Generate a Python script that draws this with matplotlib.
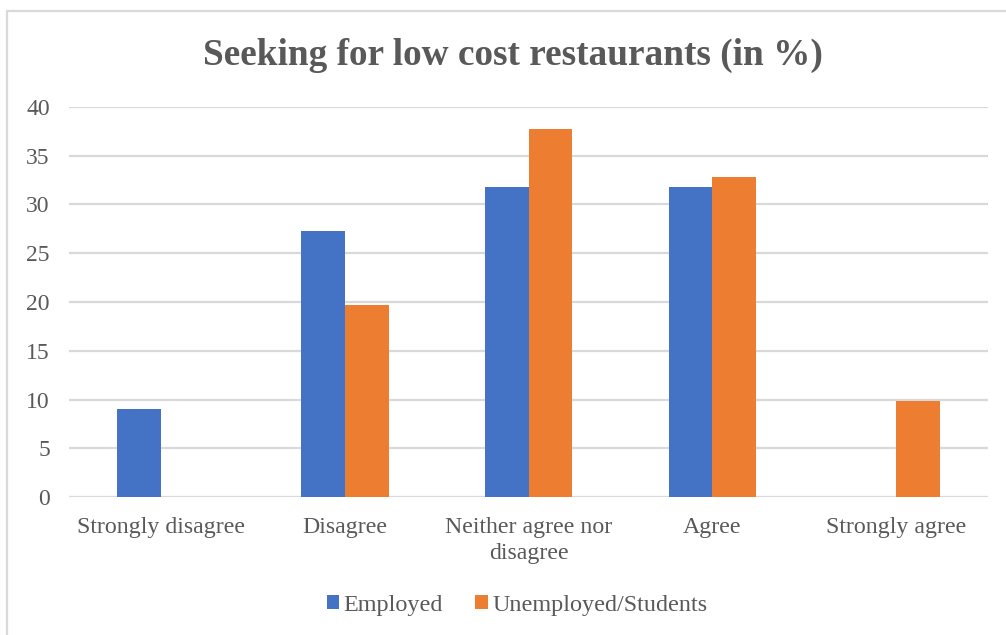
import numpy as np
import matplotlib.pyplot as plt
from matplotlib.patches import Rectangle

plt.rcParams["font.family"] = ["Liberation Serif", "DejaVu Serif"]

categories = ["Strongly disagree", "Disagree", "Neither agree nor\ndisagree", "Agree", "Strongly agree"]
employed = [9.09, 27.27, 31.82, 31.82, 0]
unemployed = [0, 19.67, 37.70, 32.79, 9.84]
yticks = [0, 5, 10, 15, 20, 25, 30, 35, 40]

blue = "#4472C4"
orange = "#ED7D31"
grey_text = "#595959"
grid_col = "#D9D9D9"

W, H = 1006, 635
fig = plt.figure(figsize=(W / 100, H / 100), dpi=100)
fig.patch.set_facecolor("white")

# chart-area frame (only left and top edges fall inside the image)
fig.patches.append(Rectangle((7 / W, -0.1), 1.2, 1 - 11 / H + 0.1, transform=fig.transFigure,
                             fill=False, edgecolor="#D9D9D9", linewidth=1.6, zorder=0))

ax = fig.add_axes([69.3 / W, 1 - 497.3 / H, (988 - 69.3) / W, (497.3 - 106.7) / H])

x = np.arange(len(categories))
bw = 0.238
ax.bar(x - bw / 2, employed, bw, color=blue, label="Employed", zorder=3)
ax.bar(x + bw / 2, unemployed, bw, color=orange, label="Unemployed/Students", zorder=3)

ax.set_xlim(-0.5, len(categories) - 0.5)
ax.set_ylim(0, 40)
ax.set_yticks(yticks)
ax.set_xticks(x)
ax.set_xticklabels(categories, linespacing=1.3)
ax.tick_params(axis="y", length=0, pad=14, labelsize=17, labelcolor=grey_text)
ax.tick_params(axis="x", length=0, pad=14, labelsize=17.2, labelcolor=grey_text)
ax.grid(axis="y", color=grid_col, linewidth=1.6, zorder=0)
for s in ax.spines.values():
    s.set_visible(False)

fig.text(513 / W, 1 - 55 / H, "Seeking for low cost restaurants (in %)", ha="center", va="center",
         fontsize=26.8, fontweight="bold", color=grey_text)

leg = fig.legend(loc="center", bbox_to_anchor=(517 / W, 1 - 605 / H), ncol=2, frameon=False,
                 fontsize=17.4, handlelength=0.5, handleheight=0.5, handletextpad=0.2,
                 columnspacing=1.35)
for t in leg.get_texts():
    t.set_color(grey_text)

fig.savefig("out.png", dpi=100)
